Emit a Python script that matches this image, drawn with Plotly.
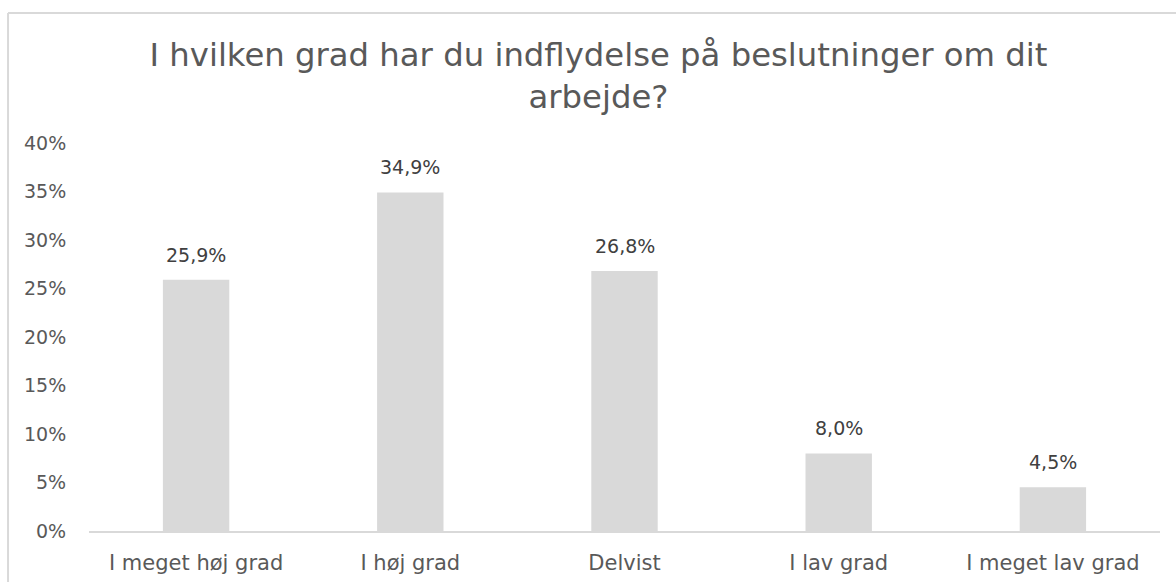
import plotly.graph_objects as go

categories = ["I meget høj grad", "I høj grad", "Delvist", "I lav grad", "I meget lav grad"]
values = [0.259, 0.349, 0.268, 0.080, 0.045]
labels = ["25,9%", "34,9%", "26,8%", "8,0%", "4,5%"]
y_ticks = [0, 0.05, 0.10, 0.15, 0.20, 0.25, 0.30, 0.35, 0.40]
y_tick_text = ["0%", "5%", "10%", "15%", "20%", "25%", "30%", "35%", "40%"]
title_text = "I hvilken grad har du indflydelse på beslutninger om dit<br>arbejde?"

FONT = "DejaVu Sans, Verdana, sans-serif"
W, H = 1176, 582

fig = go.Figure()
fig.add_trace(go.Bar(
    x=categories, y=values,
    marker=dict(color="#d9d9d9", line=dict(width=0)),
    width=0.31,
    hoverinfo="skip",
))

for c, v, t in zip(categories, values, labels):
    fig.add_annotation(x=c, y=v, text=t, showarrow=False, yanchor="bottom",
                       yshift=12, font=dict(family=FONT, size=19, color="#404040"))

# chart frame: left and top edges (right/bottom lie outside the view)
fig.add_shape(type="line", xref="paper", yref="paper",
              x0=-0.0756, x1=-0.0756, y0=-0.3, y1=1.335,
              line=dict(color="#d9d9d9", width=2), layer="below")
fig.add_shape(type="line", xref="paper", yref="paper",
              x0=-0.0756, x1=1.1, y0=1.335, y1=1.335,
              line=dict(color="#d9d9d9", width=2), layer="below")

fig.update_layout(
    width=W, height=H,
    margin=dict(l=89, r=16, t=143, b=51, autoexpand=False),
    paper_bgcolor="white", plot_bgcolor="white",
    showlegend=False,
    title=dict(text=title_text, x=598.5/W, xanchor="center", xref="container",
               y=1 - 66/H, yanchor="top", yref="container",
               font=dict(family=FONT, size=32.3, color="#595959")),
    font=dict(family=FONT, color="#595959"),
    xaxis=dict(showgrid=False, showline=True, linecolor="#d9d9d9", linewidth=2,
               ticks="outside", ticklen=12, tickcolor="rgba(0,0,0,0)", automargin=False,
               tickfont=dict(family=FONT, size=21, color="#595959"), zeroline=False),
    yaxis=dict(range=[0, 0.4], tickvals=y_ticks, ticktext=y_tick_text,
               showgrid=False, zeroline=False, showline=False, automargin=False,
               ticks="outside", ticklen=18, tickcolor="rgba(0,0,0,0)",
               tickfont=dict(family=FONT, size=19, color="#595959")),
)

fig.write_html(
    "out.html",
    config={"displayModeBar": False},
    post_script="document.body.style.margin='0';document.body.style.overflow='hidden';",
)
